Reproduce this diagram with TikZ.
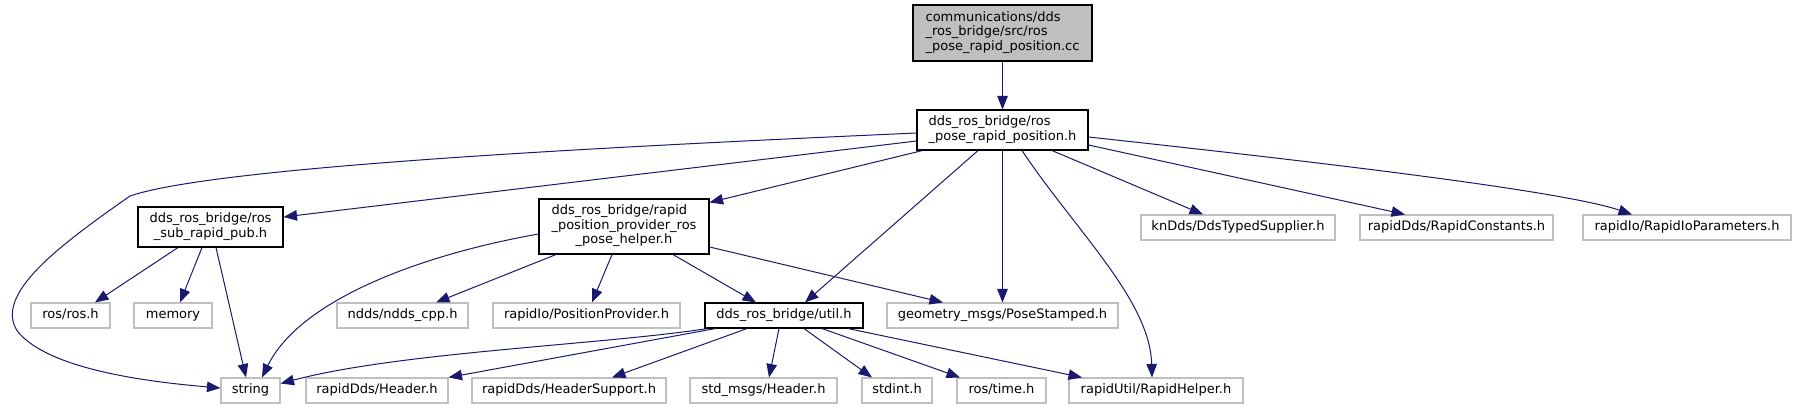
\documentclass[tikz,border=0pt]{standalone}
\usepackage{fontspec}
\setmainfont{DejaVu Sans}
\usetikzlibrary{arrows.meta}
\definecolor{edgeblue}{RGB}{25,25,112}
\definecolor{extgrey}{RGB}{191,191,191}
\definecolor{topfill}{RGB}{191,191,191}
\newcommand{\dxone}[1]{\begin{tabular}{@{}c@{}}#1\end{tabular}}
\newcommand{\dxtwo}[2]{\begin{tabular}{@{}l@{}}#1\\\multicolumn{1}{@{}c@{}}{#2}\end{tabular}}
\newcommand{\dxthree}[3]{\begin{tabular}{@{}l@{}}#1\\#2\\\multicolumn{1}{@{}c@{}}{#3}\end{tabular}}
\begin{document}
\begin{tikzpicture}[x=1pt,y=-1pt,
  base/.style={rectangle, inner sep=0pt, line width=1.1pt, font=\fontsize{13pt}{14.5pt}\selectfont, anchor=center},
  docnode/.style={base, draw=black, fill=white},
  extnode/.style={base, draw=extgrey, fill=white, minimum height=25pt},
  rootnode/.style={base, draw=black, fill=topfill},
  dep/.style={draw=edgeblue, line width=1pt, -{Triangle[length=13.5pt,width=10.5pt]}},
]
\fill[white] (0,0) rectangle (1795,409);
\useasboundingbox (0,0) rectangle (1795,409);

% nodes
\node[rootnode, minimum width=179pt, minimum height=56pt] (top) at (1002.5,33) {\dxthree{communications/dds}{\_ros\_bridge/src/ros}{\_pose\_rapid\_position.cc}};
\node[docnode, minimum width=171pt, minimum height=40pt] (rospose) at (1002.5,130) {\dxtwo{dds\_ros\_bridge/ros}{\_pose\_rapid\_position.h}};
\node[docnode, minimum width=145pt, minimum height=40pt] (sub) at (210.5,227) {\dxtwo{dds\_ros\_bridge/ros}{\_sub\_rapid\_pub.h}};
\node[docnode, minimum width=170pt, minimum height=55pt] (prov) at (624,226.5) {\dxthree{dds\_ros\_bridge/rapid}{\_position\_provider\_ros}{\_pose\_helper.h}};
\node[extnode, minimum width=194pt] (kndds) at (1238,227.5) {\dxone{knDds/DdsTypedSupplier.h}};
\node[extnode, minimum width=193pt] (rconst) at (1456.5,227.5) {\dxone{rapidDds/RapidConstants.h}};
\node[extnode, minimum width=208pt] (rioparam) at (1687,227.5) {\dxone{rapidIo/RapidIoParameters.h}};
\node[extnode, minimum width=79pt] (rosh) at (70.5,315.5) {\dxone{ros/ros.h}};
\node[extnode, minimum width=78pt] (memory) at (173,315.5) {\dxone{memory}};
\node[extnode, minimum width=131pt] (ndds) at (402.5,315.5) {\dxone{ndds/ndds\_cpp.h}};
\node[extnode, minimum width=187pt] (posprov) at (586.5,315.5) {\dxone{rapidIo/PositionProvider.h}};
\node[docnode, minimum width=158pt, minimum height=25pt] (util) at (784,315.5) {\dxone{dds\_ros\_bridge/util.h}};
\node[extnode, minimum width=231pt] (geom) at (1002.5,315.5) {\dxone{geometry\_msgs/PoseStamped.h}};
\node[extnode, minimum width=59pt] (string) at (250.5,390.5) {\dxone{string}};
\node[extnode, minimum width=142pt] (hdr) at (377,390.5) {\dxone{rapidDds/Header.h}};
\node[extnode, minimum width=194pt] (hdrsup) at (569,390.5) {\dxone{rapidDds/HeaderSupport.h}};
\node[extnode, minimum width=147pt] (stdhdr) at (763.5,390.5) {\dxone{std\_msgs/Header.h}};
\node[extnode, minimum width=70pt] (stdint) at (897,390.5) {\dxone{stdint.h}};
\node[extnode, minimum width=89pt] (rostime) at (1001.5,390.5) {\dxone{ros/time.h}};
\node[extnode, minimum width=174pt] (rhelper) at (1156,390.5) {\dxone{rapidUtil/RapidHelper.h}};

% edges from the root
\draw[dep] (top.south) -- (rospose.north);

% edges from ros_pose_rapid_position.h
\draw[dep] ([yshift=-3pt]rospose.west) .. controls (650,145) and (220,165) .. (130,196)
  .. controls (60,245) and (-8,295) .. (18,332)
  .. controls (50,370) and (150,382) .. ([yshift=2.5pt]string.west);
\draw[dep] ([yshift=-11pt]rospose.west) -- ([yshift=10pt]sub.east);
\draw[dep] ([xshift=6pt]rospose.south west) -- ([yshift=-4pt]prov.north east);
\draw[dep] ([xshift=-24.5pt]rospose.south) -- ([xshift=21pt]util.north);
\draw[dep] (rospose.south) -- (geom.north);
\draw[dep] ([xshift=19.5pt]rospose.south) .. controls (1075,230) and (1150,300) .. ([xshift=-4pt]rhelper.north);
\draw[dep] ([xshift=49.5pt]rospose.south) -- ([xshift=-35pt]kndds.north);
\draw[dep] ([yshift=-15pt]rospose.east) -- ([xshift=-51.5pt]rconst.north);
\draw[dep] ([yshift=-7pt]rospose.east) .. controls (1300,160) and (1560,190) .. ([xshift=-55pt]rioparam.north);

% edges from ros_sub_rapid_pub.h
\draw[dep] ([xshift=-32.5pt]sub.south) -- ([xshift=24.5pt]rosh.north);
\draw[dep] ([xshift=-8.5pt]sub.south) -- ([xshift=7pt]memory.north);
\draw[dep] ([xshift=5.5pt]sub.south) -- ([xshift=-4.5pt]string.north);

% edges from rapid_position_provider_ros_pose_helper.h
\draw[dep] ([yshift=-7.5pt]prov.west) .. controls (420,255) and (300,300) .. ([xshift=11.5pt]string.north);
\draw[dep] ([xshift=-68pt]prov.south) -- ([xshift=33.5pt]ndds.north);
\draw[dep] ([xshift=-12pt]prov.south) -- ([xshift=5.5pt]posprov.north);
\draw[dep] ([xshift=49pt]prov.south) -- ([xshift=-28pt]util.north);
\draw[dep] ([yshift=-20.5pt]prov.east) -- ([xshift=-59.5pt]geom.north);

% edges from util.h
\draw[dep] ([xshift=3pt]util.south west) .. controls (600,345) and (400,352) .. ([yshift=7pt]string.east);
\draw[dep] ([xshift=11pt]util.south west) -- (hdr.north east);
\draw[dep] ([xshift=-37pt]util.south) -- ([xshift=43pt]hdrsup.north);
\draw[dep] ([xshift=-5pt]util.south) -- ([xshift=5.5pt]stdhdr.north);
\draw[dep] ([xshift=20pt]util.south) -- ([xshift=-25pt]stdint.north);
\draw[dep] ([xshift=38pt]util.south) -- ([xshift=-41.5pt]rostime.north);
\draw[dep] ([xshift=64pt]util.south) -- ([xshift=-74pt]rhelper.north);
\end{tikzpicture}
\end{document}
